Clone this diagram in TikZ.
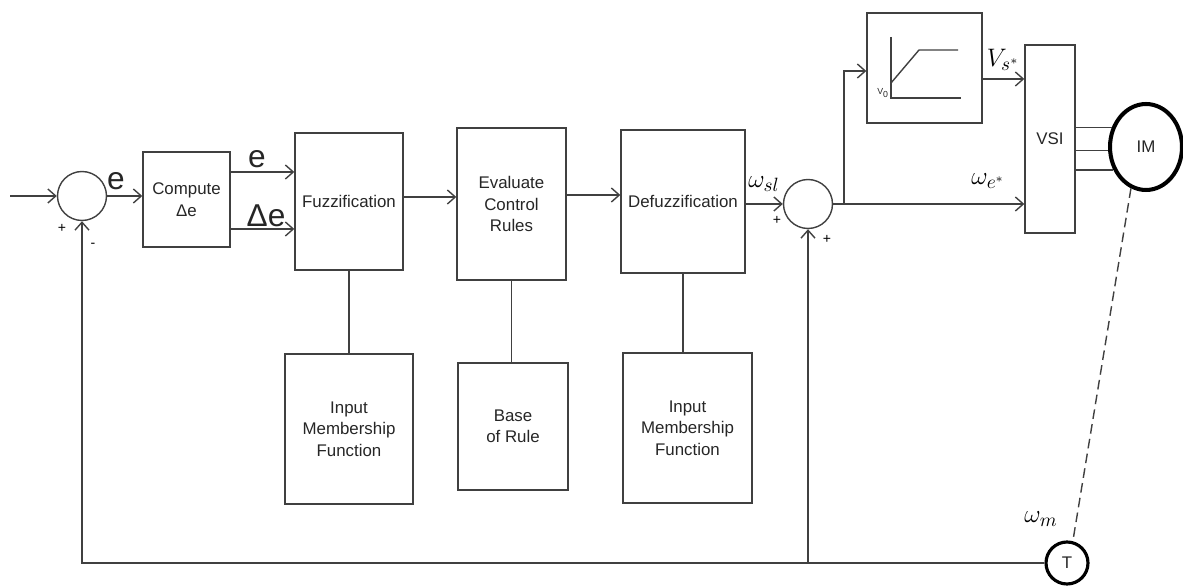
\documentclass[tikz,border=0pt]{standalone}
\usepackage{fontspec}
\setmainfont{Liberation Sans}
\usetikzlibrary{arrows.meta,shapes.geometric}

\begin{document}
\begin{tikzpicture}[
x=0.02cm, y=-0.02cm,
line/.style={draw=black!75, line width=0.8pt},
box/.style={line, align=center, inner sep=1pt, font=\fontsize{9.6}{12.2}\selectfont, text=black!85},
sum/.style={line, circle, minimum size=0.98cm},
arrow/.style={line, -{Straight Barb[length=4.5pt,width=8pt]}},
sig/.style={font=\fontsize{18}{18}\selectfont, text=black!85},
var/.style={font=\fontsize{15}{15}\selectfont},
sign/.style={font=\fontsize{8}{8}\selectfont}
]
\useasboundingbox (0,0) rectangle (1183,587);

% main forward path
\coordinate (in) at (10,196);
\node[sum] (sum1) at (82,196) {};
\node[box, minimum width=1.74cm, minimum height=1.9cm] (comp) at (186.5,199.5) {Compute\\Δe};
\node[box, minimum width=2.16cm, minimum height=2.74cm] (fuzz) at (349,201.5) {Fuzzification};
\node[box, minimum width=2.18cm, minimum height=3.04cm] (eval) at (511.5,204) {Evaluate\\Control\\Rules};
\node[box, minimum width=2.48cm, minimum height=2.86cm] (defuzz) at (683,201.5) {Defuzzification};
\node[sum] (sum2) at (808,204) {};

% lower blocks
\node[box, minimum width=2.56cm, minimum height=3.0cm] (imf1) at (349,429) {Input\\Membership\\Function};
\node[box, minimum width=2.2cm, minimum height=2.54cm] (base) at (513,426.5) {Base\\of Rule};
\node[box, minimum width=2.58cm, minimum height=3.0cm] (imf2) at (687.5,428) {Input\\Membership\\Function};

% drive side
\node[box, minimum width=2.3cm, minimum height=2.2cm] (vf) at (924.5,68) {};
\node[box, minimum width=1.0cm, minimum height=3.76cm] (vsi) at (1050,139) {VSI};
\node[draw=black, line width=2.3pt, ellipse, minimum width=1.44cm, minimum height=1.72cm, inner sep=0pt, font=\fontsize{9.6}{11}\selectfont, text=black!85] (im) at (1146,147) {IM};
\node[draw=black, line width=1.8pt, circle, minimum size=0.84cm, inner sep=0pt, font=\fontsize{9.6}{11}\selectfont, text=black!85] (tach) at (1067,563) {T};

% signal labels
\node[sig] (elbl) at (116,181) {e};
\node[sig] (e2lbl) at (257,159) {e};
\node[sig] (delbl) at (266,216) {Δe};
\node[var] (wsl) at (764,184) {$\omega_{sl}$};
\node[var] (we) at (988,181) {$\omega_{e^*}$};
\node[var] (vs) at (1003,60) {$V_{s^*}$};
\node[var] (wm) at (1041,519) {$\omega_m$};
\node[sign] (p1) at (62,228) {+};
\node[sign] (m1) at (93,245) {-};
\node[sign] (p2) at (777,220) {+};
\node[sign] (p3) at (827,239) {+};

% connections
\draw[arrow] (in) -- (sum1.west);
\draw[arrow] (sum1.east) -- (sum1.east -| comp.west);
\draw[arrow] (comp.east |- 0,172) -- (fuzz.west |- 0,172);
\draw[arrow] (comp.east |- 0,229) -- (fuzz.west |- 0,229);
\draw[arrow] (fuzz.east |- 0,197) -- (eval.west |- 0,197);
\draw[arrow] (eval.east |- 0,195) -- (defuzz.west |- 0,195);
\draw[arrow] (defuzz.east |- sum2.west) -- (sum2.west);
\draw[line] (fuzz.south) -- (imf1.north);
\draw[line] (eval.south) -- (eval.south |- base.north);
\draw[line] (defuzz.south) -- (defuzz.south |- imf2.north);

\coordinate (br) at (844,204);
\draw[arrow] (sum2.east) -- (sum2.east -| vsi.west);
\draw[arrow] (br) |- (vf.west |- 0,71);
\draw[arrow] (vf.east |- 0,79) -- (vsi.west |- 0,79);
\foreach \a in {150,185,215}
  \draw[line] (vsi.east |- im.\a) -- (im.\a);

% V/f characteristic
\draw[line] (891,37) -- (891,98) -- (961,98);
\draw[line] (891,83) -- (919,50) -- (958,50);
\node[anchor=east, inner sep=1pt, font=\fontsize{5}{5}\selectfont, text=black!85] (v0) at (891,93) {V\textsubscript{0}};

% speed feedback
\coordinate (fbj) at (sum2.south |- tach.west);
\draw[arrow] (tach.west) -- (sum1.south |- tach.west) -- (sum1.south);
\draw[arrow] (fbj) -- (sum2.south);
\draw[line, dash pattern=on 5.5pt off 3pt] (im.-110) -- (tach.75);
\end{tikzpicture}
\end{document}
